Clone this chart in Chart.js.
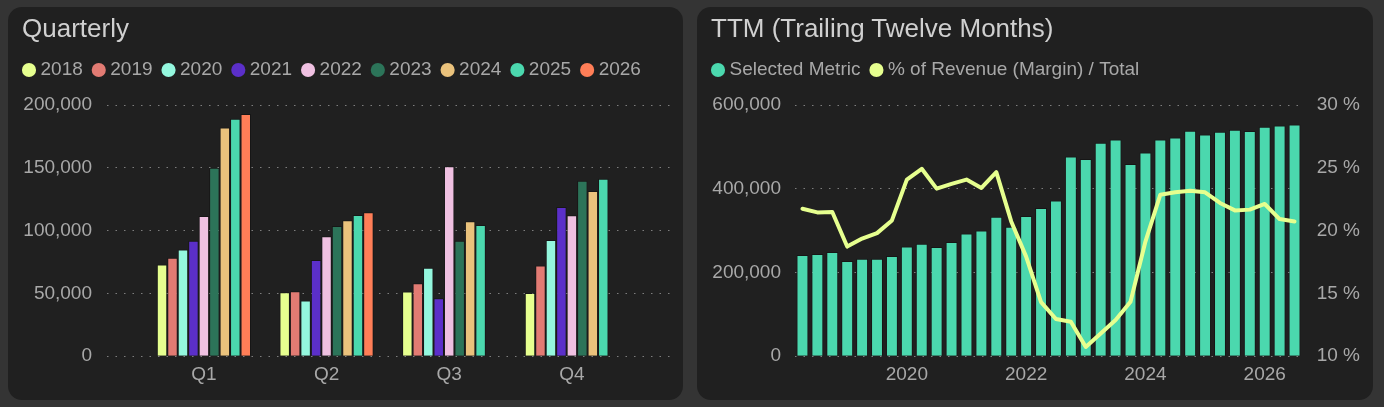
<!DOCTYPE html>
<html>
<head>
<meta charset="utf-8">
<title>Quarterly / TTM</title>
<script src="https://cdn.jsdelivr.net/npm/chart.js@4.4.1/dist/chart.umd.min.js"></script>
<style>
  body { margin: 0; background: #343434; width: 1384px; height: 407px; overflow: hidden; font-family: 'Liberation Sans', Arial, sans-serif; }
  .card { position: absolute; top: 7px; height: 393px; background: #202020; border-radius: 14px; overflow: hidden; }
  .card h2 { position: absolute; left: 14px; top: 6px; margin: 0; font-size: 26px; line-height: 30px; font-weight: normal; color: #d0d0d0; z-index: 1; }
  .card canvas { position: absolute; left: 0; top: 0; }
</style>
</head>
<body>

<div class="card" style="left:8px;width:675px">
  <h2>Quarterly</h2>
  <canvas id="quarterly" width="675" height="393"></canvas>
</div>
<div class="card" style="left:697px;width:676px">
  <h2>TTM (Trailing Twelve Months)</h2>
  <canvas id="ttm" width="676" height="393"></canvas>
</div>

<script>
// Data
// 1. Quarterly (one array per year, Q1..Q4)
const QUARTERS = ['Q1', 'Q2', 'Q3', 'Q4'];
const YEARS = ['2018', '2019', '2020', '2021', '2022', '2023', '2024', '2025', '2026'];
const YEAR_COLORS = ['#e6ff8f', '#e27b73', '#94f7de', '#5b2fc9', '#efc0e1', '#2c7459', '#eac27c', '#4bd8ae', '#ff7e57'];

const Q_2018 = [73100, 51000, 51500, 50400];
const Q_2019 = [78400, 51700, 58100, 72300];
const Q_2020 = [85000, 44300, 70400, 92500];
const Q_2021 = [92000, 76500, 46100, 118700];
const Q_2022 = [111700, 95500, 151200, 112300];
const Q_2023 = [150000, 103700, 92000, 139700];
const Q_2024 = [182000, 108300, 107500, 131500];
const Q_2025 = [189000, 112500, 104500, 141300];
const Q_2026 = [192800, 114700, null, null];
const QUARTERLY = [Q_2018, Q_2019, Q_2020, Q_2021, Q_2022, Q_2023, Q_2024, Q_2025, Q_2026];
const QUARTERLY_TICKS = [0, 50000, 100000, 150000, 200000];

// 2. TTM
const TTM_PERIODS = [
  '2018 Q1', '2018 Q2', '2018 Q3', '2018 Q4', '2019 Q1', '2019 Q2', '2019 Q3', '2019 Q4',
  '2020 Q1', '2020 Q2', '2020 Q3', '2020 Q4', '2021 Q1', '2021 Q2', '2021 Q3', '2021 Q4',
  '2022 Q1', '2022 Q2', '2022 Q3', '2022 Q4', '2023 Q1', '2023 Q2', '2023 Q3', '2023 Q4',
  '2024 Q1', '2024 Q2', '2024 Q3', '2024 Q4', '2025 Q1', '2025 Q2', '2025 Q3', '2025 Q4',
  '2026 Q1', '2026 Q2'
];
const TTM_METRIC = [
  241800, 244200, 249000, 227300, 233000, 233000, 239400, 261800,
  268300, 261000, 273000, 293000, 300400, 333300, 309200, 335000,
  354000, 372000, 476800, 471000, 509600, 517600, 459000, 486400,
  517600, 522400, 538400, 529600, 536000, 540800, 537600, 548000,
  551200, 553600
];
const TTM_MARGIN = [
  21.74, 21.45, 21.48, 18.73, 19.37, 19.80, 20.81, 24.06,
  24.92, 23.34, 23.72, 24.06, 23.40, 24.65, 20.73, 17.93,
  14.30, 12.96, 12.74, 10.74, 11.81, 12.88, 14.34, 19.13,
  22.86, 23.05, 23.18, 23.05, 22.20, 21.61, 21.67, 22.12,
  20.92, 20.73
];
const TTM_YEAR_TICKS = [2020, 2022, 2024, 2026];
const TTM_METRIC_TICKS = [0, 200000, 400000, 600000];
const TTM_MARGIN_TICKS = [10, 15, 20, 25, 30];

// quarter end as a fractional year, e.g. '2018 Q1' -> 2018.25
function periodToYear(p) {
  const [y, q] = p.split(' Q');
  return Number(y) + Number(q) / 4;
}

// Shared look
Chart.defaults.font.family = "'Liberation Sans', Arial, sans-serif";
Chart.defaults.font.size = 19;
Chart.defaults.color = '#a8a8a8';
Chart.defaults.animation = false;

const gridColor = 'rgba(190,190,190,0.6)';
const gridDash = [1.5, 7];

// extra room under the legend
function legendGap(px) {
  return {
    id: 'legendGap',
    beforeInit(chart) {
      const fit = chart.legend.fit;
      chart.legend.fit = function () {
        fit.bind(chart.legend)();
        this.height += px;
      };
    }
  };
}

const legendOpts = {
  align: 'start',
  labels: {
    usePointStyle: true,
    pointStyle: 'circle',
    boxWidth: 4,
    boxHeight: 10,
    padding: 14,
    color: '#a8a8a8',
    sort: (a, b) => a.datasetIndex - b.datasetIndex,
    generateLabels(chart) {
      return Chart.defaults.plugins.legend.labels.generateLabels(chart)
        .map(l => ({ ...l, lineWidth: 0 }));
    }
  }
};

const fmt = v => v.toLocaleString('en-US');

// 1. Quarterly chart
new Chart(document.getElementById('quarterly'), {
  type: 'bar',
  data: {
    datasets: YEARS.map((year, i) => ({
      label: year,
      data: QUARTERS.map((q, qi) => ({ x: qi, y: QUARTERLY[i][qi] })),
      backgroundColor: YEAR_COLORS[i],
      borderColor: 'rgba(0,0,0,0.3)',
      borderWidth: 1,
      categoryPercentage: 0.768,
      barPercentage: 1
    }))
  },
  options: {
    responsive: false,
    layout: { padding: { left: 5, right: 13, top: 39.5, bottom: 7 } },
    plugins: {
      legend: legendOpts,
      tooltip: { enabled: false }
    },
    scales: {
      x: {
        type: 'linear',
        min: -0.79,
        max: 3.8,
        offset: false,
        grid: { display: false, drawTicks: false },
        border: { display: false },
        afterBuildTicks: s => { s.ticks = QUARTERS.map((q, i) => ({ value: i })); },
        ticks: { padding: 7, maxRotation: 0, callback: v => QUARTERS[v] }
      },
      y: {
        min: 0,
        max: 200000,
        afterFit: s => { s.width = 94; },
        afterBuildTicks: s => { s.ticks = QUARTERLY_TICKS.map(v => ({ value: v })); },
        grid: { color: gridColor, drawTicks: false },
        border: { display: false, dash: gridDash },
        ticks: { padding: 15, callback: fmt }
      }
    }
  },
  plugins: [legendGap(15.5)]
});

// 2. TTM chart
new Chart(document.getElementById('ttm'), {
  type: 'bar',
  data: {
    datasets: [
      {
        type: 'bar',
        label: 'Selected Metric',
        data: TTM_PERIODS.map((p, i) => ({ x: periodToYear(p), y: TTM_METRIC[i] })),
        backgroundColor: '#4bd8ae',
        borderColor: 'rgba(0,0,0,0.3)',
        borderWidth: 1,
        categoryPercentage: 1,
        barPercentage: 0.8,
        yAxisID: 'y',
        order: 1
      },
      {
        type: 'line',
        label: '% of Revenue (Margin) / Total',
        data: TTM_PERIODS.map((p, i) => ({ x: periodToYear(p), y: TTM_MARGIN[i] })),
        borderColor: '#e6ff8f',
        backgroundColor: '#e6ff8f',
        borderWidth: 4,
        borderJoinStyle: 'round',
        borderCapStyle: 'round',
        pointRadius: 0,
        tension: 0,
        yAxisID: 'y1',
        order: 0
      }
    ]
  },
  options: {
    responsive: false,
    layout: { padding: { left: 5, right: 0, top: 39.5, bottom: 7 } },
    plugins: {
      legend: legendOpts,
      tooltip: { enabled: false }
    },
    scales: {
      x: {
        type: 'linear',
        min: 2018.125,
        max: 2026.625,
        offset: false,
        grid: { display: false, drawTicks: false },
        border: { display: false },
        afterBuildTicks: s => { s.ticks = TTM_YEAR_TICKS.map(v => ({ value: v })); },
        ticks: { padding: 7, maxRotation: 0, callback: v => String(v) }
      },
      y: {
        min: 0,
        max: 600000,
        afterFit: s => { s.width = 93; },
        afterBuildTicks: s => { s.ticks = TTM_METRIC_TICKS.map(v => ({ value: v })); },
        grid: { color: gridColor, drawTicks: false },
        border: { display: false, dash: gridDash },
        ticks: { padding: 14, callback: fmt }
      },
      y1: {
        position: 'right',
        min: 10,
        max: 30,
        afterFit: s => { s.width = 71; },
        afterBuildTicks: s => { s.ticks = TTM_MARGIN_TICKS.map(v => ({ value: v })); },
        grid: { display: false, drawTicks: false },
        border: { display: false },
        ticks: { padding: 14.7, callback: v => v + ' %' }
      }
    }
  },
  plugins: [legendGap(15.5)]
});
</script>
</body>
</html>
